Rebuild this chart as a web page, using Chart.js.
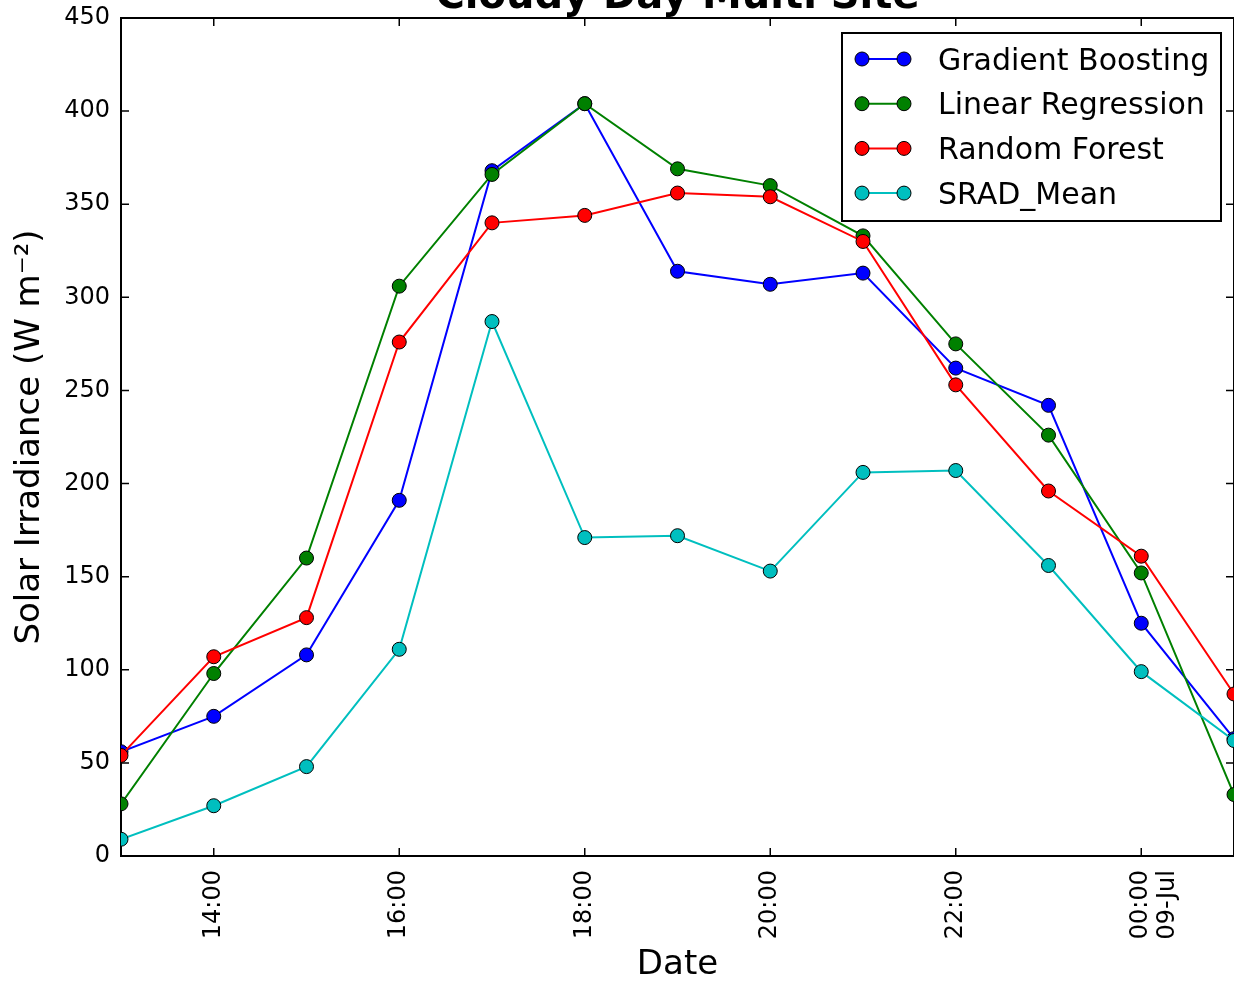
<!DOCTYPE html>
<html>
<head>
<meta charset="utf-8">
<script src="https://cdn.jsdelivr.net/npm/chart.js@4/dist/chart.umd.min.js"></script>
<style>
    body { margin: 0; background: #fff; overflow: hidden; }
    canvas { display: block; }
</style>
</head>
<body>
<canvas id="irradiance" width="1234" height="986"></canvas>
<script>
// Hours since midnight of 08-Jul (25 = 01:00 on 09-Jul)
const hours = [13, 14, 15, 16, 17, 18, 19, 20, 21, 22, 23, 24, 25];
const gradientBoosting = [56, 75, 108, 191, 368, 404, 314, 307, 313, 262, 242, 125, 63];
const linearRegression = [28, 98, 160, 306, 366, 404, 369, 360, 333, 275, 226, 152, 33];
const randomForest = [54, 107, 128, 276, 340, 344, 356, 354, 330, 253, 196, 161, 87];
const sradMean = [9, 27, 48, 111, 287, 171, 172, 153, 206, 207, 156, 99, 62];
const tickHours = [14, 16, 18, 20, 22, 24];
const tickLabels = ['14:00', '16:00', '18:00', '20:00', '22:00', ['00:00', '09-Jul']];

const FONT = "'DejaVu Sans', sans-serif";

const toPoints = (values) => hours.map((h, i) => ({ x: h, y: values[i] }));

const series = (label, values, color, order) => ({
    label: label,
    data: toPoints(values),
    borderColor: color,
    backgroundColor: color,
    borderWidth: 2,
    pointRadius: 7,
    pointBackgroundColor: color,
    pointBorderColor: '#000',
    pointBorderWidth: 1,
    order: order
});

// no extra room for the edge labels, the plot fills the frame
const noPadding = (scale) => {
    scale.paddingTop = 0;
    scale.paddingBottom = 0;
    scale.paddingLeft = 0;
    scale.paddingRight = 0;
};

// Box round the plot with inward tick marks on all four sides
const frame = {
    id: 'frame',
    beforeDatasetsDraw(chart) {
        const { ctx, chartArea: a, scales: { x, y } } = chart;
        ctx.save();
        ctx.strokeStyle = '#000';
        ctx.lineWidth = 1.5;
        ctx.beginPath();
        x.ticks.forEach(t => {
            const px = x.getPixelForValue(t.value);
            ctx.moveTo(px, a.bottom); ctx.lineTo(px, a.bottom - 8);
            ctx.moveTo(px, a.top); ctx.lineTo(px, a.top + 8);
        });
        y.ticks.forEach(t => {
            const py = y.getPixelForValue(t.value);
            ctx.moveTo(a.left, py); ctx.lineTo(a.left + 8, py);
            ctx.moveTo(a.right, py); ctx.lineTo(a.right - 8, py);
        });
        ctx.stroke();
        ctx.lineWidth = 2;
        ctx.strokeRect(a.left, a.top, a.right - a.left, a.bottom - a.top);
        ctx.restore();
    }
};

// Title sits partly above the top edge of the picture
const topTitle = {
    id: 'topTitle',
    afterDraw(chart) {
        const { ctx, chartArea: a } = chart;
        ctx.save();
        ctx.fillStyle = '#000';
        ctx.font = 'bold 40px ' + FONT;
        ctx.textAlign = 'center';
        ctx.textBaseline = 'alphabetic';
        ctx.fillText('Cloudy Day Multi Site', (a.left + a.right) / 2, 8);
        ctx.restore();
    }
};

// Legend box in the upper right, matplotlib style
const boxLegend = {
    id: 'boxLegend',
    afterDatasetsDraw(chart) {
        const ctx = chart.ctx;
        const left = 842, top = 33, w = 379, h = 188;
        ctx.save();
        ctx.fillStyle = '#fff';
        ctx.fillRect(left, top, w, h);
        ctx.strokeStyle = '#000';
        ctx.lineWidth = 2;
        ctx.strokeRect(left, top, w, h);
        chart.data.datasets.forEach((ds, i) => {
            const yRow = top + 26 + i * 44.7;
            ctx.strokeStyle = ds.borderColor;
            ctx.lineWidth = 2;
            ctx.beginPath();
            ctx.moveTo(left + 20, yRow);
            ctx.lineTo(left + 62, yRow);
            ctx.stroke();
            [left + 20, left + 62].forEach(cx => {
                ctx.beginPath();
                ctx.arc(cx, yRow, 7, 0, Math.PI * 2);
                ctx.fillStyle = ds.borderColor;
                ctx.fill();
                ctx.strokeStyle = '#000';
                ctx.lineWidth = 1;
                ctx.stroke();
            });
            ctx.fillStyle = '#000';
            ctx.font = '30px ' + FONT;
            ctx.textAlign = 'left';
            ctx.textBaseline = 'middle';
            ctx.fillText(ds.label, left + 96, yRow + 3);
        });
        ctx.restore();
    }
};

document.addEventListener('DOMContentLoaded', () => {
    const canvas = document.getElementById('irradiance');
    new Chart(canvas, {
        type: 'line',
        data: {
            datasets: [
                series('Gradient Boosting', gradientBoosting, '#0000ff', 4),
                series('Linear Regression', linearRegression, '#008000', 3),
                series('Random Forest', randomForest, '#ff0000', 2),
                series('SRAD_Mean', sradMean, '#00bfbf', 1)
            ]
        },
        options: {
            responsive: false,
            animation: false,
            devicePixelRatio: 1,
            // right edge of the frame falls just outside the picture
            layout: { autoPadding: false, padding: { top: 18, right: -2, bottom: 0, left: 0 } },
            plugins: {
                legend: { display: false },
                tooltip: { enabled: false }
            },
            scales: {
                x: {
                    type: 'linear',
                    min: 13,
                    max: 25,
                    afterBuildTicks: (scale) => {
                        scale.ticks = tickHours.map(v => ({ value: v }));
                    },
                    afterFit: (scale) => { scale.height = 130; noPadding(scale); },
                    grid: { display: false, drawTicks: false },
                    border: { display: false },
                    ticks: {
                        autoSkip: false,
                        minRotation: 90,
                        maxRotation: 90,
                        padding: 14,
                        color: '#000',
                        font: { family: FONT, size: 24, lineHeight: 1.1 },
                        callback: (value, index) => tickLabels[index]
                    },
                    title: {
                        display: true,
                        text: 'Date',
                        color: '#000',
                        font: { family: FONT, size: 34 },
                        padding: { top: 0, bottom: 0 }
                    }
                },
                y: {
                    min: 0,
                    max: 450,
                    afterFit: (scale) => { scale.width = 121; noPadding(scale); },
                    grid: { display: false, drawTicks: false },
                    border: { display: false },
                    ticks: {
                        stepSize: 50,
                        padding: 11,
                        color: '#000',
                        font: { family: FONT, size: 24 }
                    },
                    title: {
                        display: true,
                        text: 'Solar Irradiance (W m\u207B\u00B2)',
                        color: '#000',
                        font: { family: FONT, size: 34 },
                        padding: { top: 10, bottom: 0 }
                    }
                }
            }
        },
        plugins: [frame, boxLegend, topTitle]
    });
});
</script>
</body>
</html>
